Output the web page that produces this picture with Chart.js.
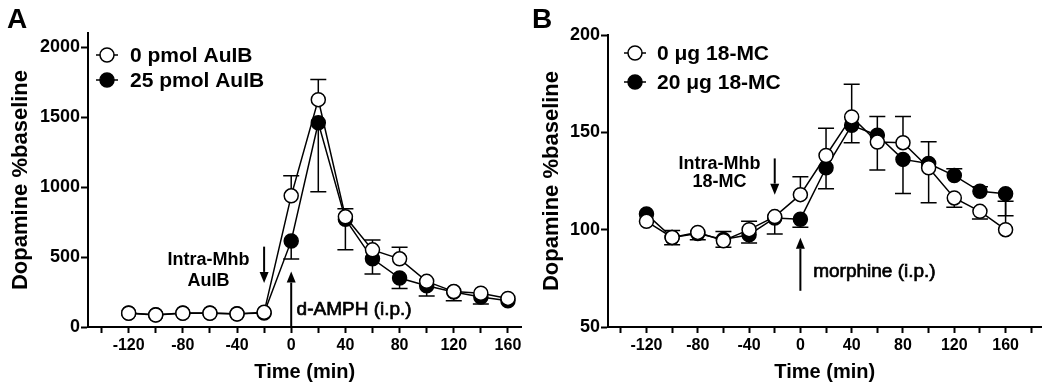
<!DOCTYPE html>
<html><head><meta charset="utf-8">
<script src="https://cdn.jsdelivr.net/npm/chart.js@4.4.1/dist/chart.umd.min.js"></script>
<style>
html,body{margin:0;padding:0;background:#fff;}
body{width:1050px;height:386px;position:relative;overflow:hidden;}
.wrap{position:absolute;top:0;height:386px;width:530px;}
#wa{left:0}
#wb{left:520px}
canvas{display:block}
</style></head><body>
<div class="wrap" id="wa"><canvas id="ca" width="530" height="386"></canvas></div>
<div class="wrap" id="wb"><canvas id="cb" width="530" height="386"></canvas></div>
<script>
// ---------- DATA ----------
const timePoints = [-120, -100, -80, -60, -40, -20, 0, 20, 40, 60, 80, 100, 120, 140, 160];
const xTickValues = [-140, -120, -100, -80, -60, -40, -20, 0, 20, 40, 60, 80, 100, 120, 140, 160, 180];
const xTickLabels = ['-120', '-80', '-40', '0', '40', '80', '120', '160'];

// Panel A
const labelA0 = '0 pmol AuIB';
const labelA25 = '25 pmol AuIB';
const aulb0 = [98, 86, 98, 98, 93, 105, 937, 1624, 787, 551, 487, 326, 253, 241, 204];
const aulb25 = [100, 88, 100, 100, 95, 100, 615, 1459, 770, 487, 350, 295, 250, 215, 187];
const aulb0Hi = [null, null, null, null, null, null, 1080, 1767, 844, 622, 570, null, null, null, null];
const aulb0Lo = [null, null, null, null, null, null, null, null, null, null, null, null, null, null, null];
const aulb25Hi = [null, null, null, null, null, null, null, null, null, null, null, null, null, null, null];
const aulb25Lo = [null, null, null, null, null, null, 486, 966, 551, 379, 275, 222, 187, 165, null];
const yTicksA = [0, 500, 1000, 1500, 2000];

// Panel B
const labelB0 = '0 \u03bcg 18-MC';
const labelB20 = '20 \u03bcg 18-MC';
const mc0 = [104.3, 96, 98.6, 94.3, 100, 106.7, 118, 138.1, 157.9, 145, 144.7, 131.8, 116.3, 109.4, 100];
const mc20 = [108, 96, 98, 95, 97.4, 106, 105.4, 131.8, 153.6, 148.5, 136.1, 134, 127.8, 119.7, 118.4];
const mc0Hi = [null, 99.6, null, 99.1, 104.3, null, 127.2, 152.1, 174.7, null, 158.1, null, null, null, 114.6];
const mc0Lo = [null, 92.3, 94.8, 91, 93.1, 97.8, null, null, null, 130.6, null, 113.8, 111.5, 105.5, null];
const mc20Hi = [null, null, null, null, null, null, null, null, null, 158.1, null, 145.2, 131.3, 122, null];
const mc20Lo = [null, null, null, null, null, null, 101.2, 121, 144.7, null, 118.6, null, null, null, 107.2];
const yTicksB = [50, 100, 150, 200];

// ---------- RENDER ----------
const FONT = '"Liberation Sans", Arial, Helvetica, sans-serif';

function pts(arr) { return arr.map((v, i) => ({x: timePoints[i], y: v})); }

function arrow(ctx, x, yFrom, yTip) {
  const dir = yTip > yFrom ? 1 : -1;
  const hl = 11, hw = 4.5;
  ctx.save();
  ctx.strokeStyle = '#000'; ctx.fillStyle = '#000'; ctx.lineWidth = 2;
  ctx.beginPath(); ctx.moveTo(x, yFrom); ctx.lineTo(x, yTip - dir * hl); ctx.stroke();
  ctx.beginPath(); ctx.moveTo(x, yTip); ctx.lineTo(x - hw, yTip - dir * hl); ctx.lineTo(x + hw, yTip - dir * hl); ctx.closePath(); ctx.fill();
  ctx.restore();
}

const decor = {
  id: 'decor',
  beforeDatasetsDraw(chart) {
    const ctx = chart.ctx, xs = chart.scales.x, ys = chart.scales.y;
    ctx.save();
    ctx.strokeStyle = '#000'; ctx.lineWidth = 1.5;
    chart.data.datasets.forEach(ds => {
      ds.data.forEach((p, i) => {
        const x = xs.getPixelForValue(p.x), y0 = ys.getPixelForValue(p.y);
        [ds.errHi[i], ds.errLo[i]].forEach(e => {
          if (e === null || e === undefined) return;
          const ye = ys.getPixelForValue(e);
          ctx.beginPath(); ctx.moveTo(x, y0); ctx.lineTo(x, ye);
          ctx.moveTo(x - 8, ye); ctx.lineTo(x + 8, ye); ctx.stroke();
        });
      });
    });
    ctx.restore();
  },
  afterDraw(chart, args, o) {
    const ctx = chart.ctx, xs = chart.scales.x, ys = chart.scales.y, ca = chart.chartArea;
    ctx.save();
    ctx.fillStyle = '#000';
    // panel letter
    ctx.font = 'bold 28px ' + FONT; ctx.textBaseline = 'alphabetic'; ctx.textAlign = 'left';
    ctx.fillText(o.letter, o.letterX, 28);
    // axis titles
    ctx.font = 'bold 20px ' + FONT; ctx.textAlign = 'center';
    ctx.fillText('Time (min)', (ca.left + ca.right) / 2, 378);
    ctx.save();
    ctx.translate(o.yTitleX, (ca.top + ca.bottom) / 2);
    ctx.rotate(-Math.PI / 2);
    ctx.font = 'bold 22px ' + FONT;
    ctx.fillText('Dopamine %baseline', 0, 0);
    ctx.restore();
    // legend
    chart.data.datasets.forEach((ds, i) => {
      const y = o.legendY[i];
      ctx.strokeStyle = '#000'; ctx.lineWidth = 1.5;
      ctx.beginPath(); ctx.moveTo(o.legendX - 11, y); ctx.lineTo(o.legendX + 11, y); ctx.stroke();
      ctx.beginPath(); ctx.arc(o.legendX, y, 7, 0, Math.PI * 2);
      ctx.fillStyle = ds.backgroundColor; ctx.fill(); ctx.stroke();
      ctx.fillStyle = '#000';
      ctx.font = 'bold 21px ' + FONT; ctx.textAlign = 'left'; ctx.textBaseline = 'middle';
      ctx.fillText(ds.label, o.legendTextX, y + 1);
    });
    // annotations
    ctx.textAlign = 'center'; ctx.textBaseline = 'middle';
    ctx.font = 'bold 18px ' + FONT;
    ctx.fillText('Intra-Mhb', xs.getPixelForValue(o.inj.x), ys.getPixelForValue(o.inj.y1));
    ctx.fillText(o.inj.drug, xs.getPixelForValue(o.inj.x), ys.getPixelForValue(o.inj.y2));
    ctx.font = '19px ' + FONT; ctx.textAlign = 'left';
    ctx.strokeStyle = '#000'; ctx.lineWidth = 0.7;
    const ipx = xs.getPixelForValue(o.ip.x), ipy = ys.getPixelForValue(o.ip.y);
    ctx.fillText(o.ip.text, ipx, ipy);
    ctx.strokeText(o.ip.text, ipx, ipy);
    arrow(ctx, xs.getPixelForValue(o.down.x), ys.getPixelForValue(o.down.from), ys.getPixelForValue(o.down.to));
    arrow(ctx, xs.getPixelForValue(o.up.x), ys.getPixelForValue(o.up.from), ys.getPixelForValue(o.up.to));
    ctx.restore();
  }
};

function makeChart(id, sets, yMin, yMax, yTicks, xMax, padTop, deco) {
  return new Chart(document.getElementById(id), {
    type: 'line',
    data: {
      datasets: sets.map(s => ({
        label: s.label, data: pts(s.data), errHi: s.hi, errLo: s.lo,
        borderColor: '#000', borderWidth: 1.5, backgroundColor: s.fill,
        pointBackgroundColor: s.fill, pointBorderColor: '#000', pointBorderWidth: 1.5,
        pointRadius: 7, pointHoverRadius: 7, tension: 0, fill: false
      }))
    },
    options: {
      responsive: false, animation: false, events: [],
      layout: {padding: {top: padTop, right: 3, left: 0, bottom: 0}},
      plugins: {legend: {display: false}, tooltip: {enabled: false}, decor: deco},
      scales: {
        x: {
          type: 'linear', min: -150, max: xMax,
          afterBuildTicks: ax => { ax.ticks = xTickValues.filter(v => v <= xMax).map(v => ({value: v})); },
          afterFit: ax => { ax.height = 59; },
          ticks: {
            autoSkip: false, maxRotation: 0, padding: 3, color: '#000',
            font: {family: FONT, size: 16, weight: 'bold'},
            callback: v => xTickLabels.includes(String(v)) ? String(v) : ''
          },
          grid: {drawOnChartArea: false, drawTicks: true, tickLength: 6, tickWidth: 2, tickColor: '#000'},
          border: {display: true, color: '#000', width: 2}
        },
        y: {
          type: 'linear', min: yMin, max: yMax,
          afterBuildTicks: ax => { ax.ticks = yTicks.map(v => ({value: v})); },
          afterFit: ax => { ax.width = 88; },
          ticks: {padding: 1, color: '#000', font: {family: FONT, size: 18, weight: 'bold'},
            callback: v => String(v)},
          grid: {drawOnChartArea: false, drawTicks: true, tickLength: 7, tickWidth: 2, tickColor: '#000'},
          border: {display: true, color: '#000', width: 2}
        }
      }
    },
    plugins: [decor]
  });
}

makeChart('ca', [
  {label: labelA0, data: aulb0, hi: aulb0Hi, lo: aulb0Lo, fill: '#fff'},
  {label: labelA25, data: aulb25, hi: aulb25Hi, lo: aulb25Lo, fill: '#000'}
], 0, 2100, yTicksA, 170, 33, {
  letter: 'A', letterX: 7, yTitleX: 27, legendX: 107, legendTextX: 130, legendY: [55, 80],
  inj: {x: -61, y1: 479, y2: 329, drug: 'AuIB'},
  ip: {x: 4, y: 122, text: 'd-AMPH (i.p.)'},
  down: {x: -20, from: 574, to: 315},
  up: {x: 0, from: 0, to: 396}
});

makeChart('cb', [
  {label: labelB0, data: mc0, hi: mc0Hi, lo: mc0Lo, fill: '#fff'},
  {label: labelB20, data: mc20, hi: mc20Hi, lo: mc20Lo, fill: '#000'}
], 50, 200, yTicksB, 188, 35, {
  letter: 'B', letterX: 12, yTitleX: 38, legendX: 115, legendTextX: 137, legendY: [53, 82],
  inj: {x: -63, y1: 133.5, y2: 124.7, drug: '18-MC'},
  ip: {x: 10, y: 78.4, text: 'morphine (i.p.)'},
  down: {x: -20, from: 136.6, to: 118},
  up: {x: 0, from: 68.6, to: 95.9}
});
</script>
</body></html>
